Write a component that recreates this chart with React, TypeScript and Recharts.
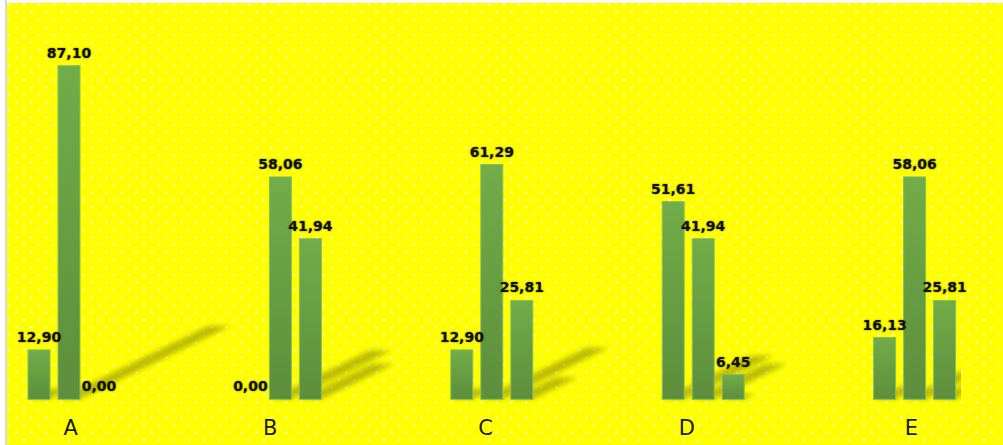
import { BarChart, Bar, XAxis, YAxis, LabelList } from 'recharts'

const categorias = ['A', 'B', 'C', 'D', 'E']
const serie1 = [12.9, 0.0, 12.9, 51.61, 16.13]
const serie2 = [87.1, 58.06, 61.29, 41.94, 58.06]
const serie3 = [0.0, 41.94, 25.81, 6.45, 25.81]

const dados = categorias.map((c, i) => ({
    categoria: c,
    s1: serie1[i],
    s2: serie2[i],
    s3: serie3[i],
}))

const fmt = (v: number) => v.toFixed(2).replace('.', ',')

// small nudges so the category letters sit where the original put them
const tickNudge: Record<string, number> = { A: 2, B: -10, C: -6, D: -16, E: -3 }

function BarraComSombra(props: any) {
    const { x, y, width, height } = props
    if (height <= 0) return null
    const base = y + height
    const dx = height * 0.45
    const dy = -height * 0.22
    const pts = [
        `${x},${base}`,
        `${x + width},${base}`,
        `${x + width + dx},${base + dy}`,
        `${x + dx},${base + dy}`,
    ].join(' ')
    return (
        <g>
            <g clipPath="url(#clipSombra)">
                <polygon points={pts} fill="#6b6b00" opacity={0.45} filter="url(#blurSombra)" />
            </g>
            <rect
                x={x}
                y={y}
                width={width}
                height={height}
                fill="url(#gradBarra)"
                stroke="#86bf5e"
                strokeWidth={1}
            />
        </g>
    )
}

function Rotulo(props: any) {
    const { x, y, width, value } = props
    return (
        <text
            x={x + width / 2}
            y={y - 8}
            textAnchor="middle"
            fontFamily="DejaVu Sans"
            fontWeight="bold"
            fontSize={14}
            fill="#101000"
            style={{ textShadow: '0 0 2px rgba(80,80,0,0.8)' }}
        >
            {fmt(value)}
        </text>
    )
}

function TickCategoria(props: any) {
    const { x, y, payload } = props
    return (
        <text
            x={x + (tickNudge[payload.value] || 0)}
            y={y}
            dy={28}
            textAnchor="middle"
            fontFamily="DejaVu Sans"
            fontSize={21}
            fill="#1a1a1a"
        >
            {payload.value}
        </text>
    )
}

export default function App() {
    return (
        <div style={{ position: 'relative', width: 1003, height: 445, background: '#fff', overflow: 'hidden' }}>
            <style>{'body{margin:0}'}</style>
            <svg width={0} height={0} style={{ position: 'absolute' }}>
                <defs>
                    <linearGradient id="gradBarra" x1="0" y1="0" x2="0" y2="1">
                        <stop offset="0%" stopColor="#71ad48" />
                        <stop offset="100%" stopColor="#5d8e3c" />
                    </linearGradient>
                    <filter id="blurSombra" x="-50%" y="-50%" width="200%" height="200%">
                        <feGaussianBlur stdDeviation="2.5" />
                    </filter>
                    <clipPath id="clipSombra" clipPathUnits="userSpaceOnUse">
                        <rect x={0} y={0} width={998} height={500} />
                    </clipPath>
                </defs>
            </svg>
            <div style={{ position: 'absolute', left: 5, top: 0, width: 2, height: 445, background: '#d5dce4' }} />
            <div
                style={{
                    position: 'absolute',
                    left: 7,
                    top: 3,
                    width: 996,
                    height: 442,
                    overflow: 'hidden',
                    backgroundColor: '#ffff00',
                    backgroundImage:
                        'radial-gradient(circle, rgba(255,255,255,0.9) 0.8px, rgba(255,255,255,0) 1.4px), radial-gradient(circle, rgba(255,255,255,0.9) 0.8px, rgba(255,255,255,0) 1.4px)',
                    backgroundSize: '15px 15px, 15px 15px',
                    backgroundPosition: '2px 2px, 9.5px 9.5px',
                }}
            >
                <div style={{ position: 'absolute', left: -44.35, top: 0 }}>
                    <BarChart
                        width={1057}
                        height={442}
                        data={dados}
                        margin={{ top: 13.3, right: 0, bottom: 5.7, left: 0 }}
                        barSize={22}
                        barGap={8}
                    >
                        <XAxis
                            dataKey="categoria"
                            axisLine={false}
                            tickLine={false}
                            height={40}
                            tick={<TickCategoria />}
                            interval={0}
                        />
                        <YAxis hide domain={[0, 100]} />
                        {(['s1', 's2', 's3'] as const).map((k) => (
                            <Bar key={k} dataKey={k} shape={<BarraComSombra />} isAnimationActive={false}>
                                <LabelList dataKey={k} content={<Rotulo />} />
                            </Bar>
                        ))}
                    </BarChart>
                </div>
            </div>
        </div>
    )
}
